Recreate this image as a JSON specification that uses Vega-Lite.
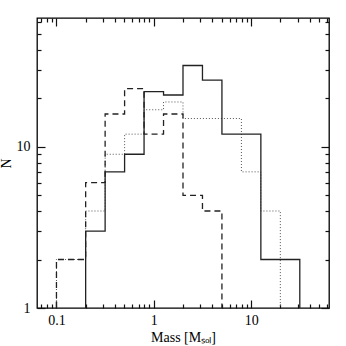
{
  "$schema": "https://vega.github.io/schema/vega-lite/v6.json",
  "autosize": "none",
  "width": 292,
  "height": 290,
  "padding": {"left": 37, "top": 18, "right": 17, "bottom": 38},
  "background": "white",
  "config": {
    "view": {"stroke": "black", "strokeWidth": 1.3},
    "axis": {
      "labelFont": "Liberation Serif",
      "titleFont": "Liberation Serif",
      "labelFontSize": 14,
      "titleFontSize": 14,
      "labelColor": "black",
      "titleColor": "black",
      "titleFontWeight": "normal",
      "domain": false,
      "ticks": true,
      "tickColor": "#111111",
      "tickWidth": 1.2,
      "grid": false,
      "labelFlush": false,
      "labelOverlap": false
    }
  },
  "data": {
    "values": [
      {"s": "A", "i": 0, "m": 0.1995, "n": 1},
      {"s": "A", "i": 1, "m": 0.1995, "n": 3},
      {"s": "A", "i": 2, "m": 0.3162, "n": 7},
      {"s": "A", "i": 3, "m": 0.5012, "n": 9},
      {"s": "A", "i": 4, "m": 0.7943, "n": 22},
      {"s": "A", "i": 5, "m": 1.2589, "n": 21},
      {"s": "A", "i": 6, "m": 1.9953, "n": 32},
      {"s": "A", "i": 7, "m": 3.1623, "n": 26},
      {"s": "A", "i": 8, "m": 5.0119, "n": 12},
      {"s": "A", "i": 9, "m": 7.9433, "n": 12},
      {"s": "A", "i": 10, "m": 12.589, "n": 2},
      {"s": "A", "i": 11, "m": 19.953, "n": 2},
      {"s": "A", "i": 12, "m": 31.623, "n": 2},
      {"s": "A", "i": 13, "m": 31.623, "n": 1},
      {"s": "B", "i": 0, "m": 0.1, "n": 1},
      {"s": "B", "i": 1, "m": 0.1, "n": 2},
      {"s": "B", "i": 2, "m": 0.1995, "n": 6},
      {"s": "B", "i": 3, "m": 0.3162, "n": 16},
      {"s": "B", "i": 4, "m": 0.5012, "n": 23},
      {"s": "B", "i": 5, "m": 0.7943, "n": 12},
      {"s": "B", "i": 6, "m": 1.2589, "n": 16},
      {"s": "B", "i": 7, "m": 1.9953, "n": 5},
      {"s": "B", "i": 8, "m": 3.1623, "n": 4},
      {"s": "B", "i": 9, "m": 5.0119, "n": 4},
      {"s": "B", "i": 10, "m": 5.0119, "n": 1},
      {"s": "C", "i": 0, "m": 0.1, "n": 1},
      {"s": "C", "i": 1, "m": 0.1, "n": 2},
      {"s": "C", "i": 2, "m": 0.1995, "n": 4},
      {"s": "C", "i": 3, "m": 0.3162, "n": 9},
      {"s": "C", "i": 4, "m": 0.5012, "n": 12},
      {"s": "C", "i": 5, "m": 0.7943, "n": 17},
      {"s": "C", "i": 6, "m": 1.2589, "n": 19},
      {"s": "C", "i": 7, "m": 1.9953, "n": 15},
      {"s": "C", "i": 8, "m": 3.1623, "n": 15},
      {"s": "C", "i": 9, "m": 5.0119, "n": 15},
      {"s": "C", "i": 10, "m": 7.9433, "n": 7},
      {"s": "C", "i": 11, "m": 12.589, "n": 4},
      {"s": "C", "i": 12, "m": 19.953, "n": 4},
      {"s": "C", "i": 13, "m": 19.953, "n": 1}
    ]
  },
  "resolve": {"axis": {"x": "independent", "y": "independent"}},
  "layer": [
    {
      "transform": [{"filter": "datum.s == 'C'"}],
      "mark": {"type": "line", "interpolate": "step-after", "stroke": "#555555", "strokeWidth": 1, "strokeDash": [1, 2], "clip": true},
      "encoding": {
        "x": {"field": "m", "type": "quantitative", "scale": {"type": "log", "domain": [0.0631, 63.1], "nice": false},
          "axis": {"orient": "bottom", "title": "Mass [Mₛₒₗ]", "titlePadding": 3,
            "values": [0.1, 1, 10], "ticks": false,
            "labelExpr": "datum.value == 0.1 ? '0.1' : datum.value == 1 ? '1' : '10'",
            "labelPadding": 5}},
        "y": {"field": "n", "type": "quantitative", "scale": {"type": "log", "domain": [1, 63.1], "nice": false},
          "axis": {"orient": "left", "title": "N", "titlePadding": 3,
            "values": [1, 10], "ticks": false,
            "labelExpr": "datum.value == 1 ? '1' : '10'",
            "labelPadding": 7}},
        "order": {"field": "i", "type": "quantitative"}
      }
    },
    {
      "transform": [{"filter": "datum.s == 'B'"}],
      "mark": {"type": "line", "interpolate": "step-after", "stroke": "#222222", "strokeWidth": 1.3, "strokeDash": [6, 4], "clip": true},
      "encoding": {
        "x": {"field": "m", "type": "quantitative",
          "axis": {"orient": "top", "title": null, "labels": false, "values": [0.1, 1, 10], "offset": -8, "tickSize": 8}},
        "y": {"field": "n", "type": "quantitative",
          "axis": {"orient": "right", "title": null, "labels": false, "values": [1, 10], "offset": -8, "tickSize": 8}},
        "order": {"field": "i", "type": "quantitative"}
      }
    },
    {
      "transform": [{"filter": "datum.s == 'A'"}],
      "mark": {"type": "line", "interpolate": "step-after", "stroke": "#222222", "strokeWidth": 1.3, "clip": true},
      "encoding": {
        "x": {"field": "m", "type": "quantitative",
          "axis": {"orient": "top", "title": null, "labels": false, "values": [0.1, 1, 10], "offset": -290, "tickSize": 8}},
        "y": {"field": "n", "type": "quantitative",
          "axis": {"orient": "right", "title": null, "labels": false, "values": [1, 10], "offset": -292, "tickSize": 8}},
        "order": {"field": "i", "type": "quantitative"}
      }
    },
    {
      "transform": [{"filter": "datum.s == 'A'"}],
      "mark": {"type": "line", "strokeOpacity": 0},
      "encoding": {
        "x": {"field": "m", "type": "quantitative",
          "axis": {"orient": "top", "title": null, "labels": false, "offset": -290, "tickSize": 4,
            "values": [0.07, 0.08, 0.09, 0.2, 0.3, 0.4, 0.5, 0.6, 0.7, 0.8, 0.9, 2, 3, 4, 5, 6, 7, 8, 9, 20, 30, 40, 50, 60]}},
        "y": {"field": "n", "type": "quantitative",
          "axis": {"orient": "right", "title": null, "labels": false, "offset": -292, "tickSize": 4,
            "values": [2, 3, 4, 5, 6, 7, 8, 9, 20, 30, 40, 50, 60]}},
        "order": {"field": "i", "type": "quantitative"}
      }
    },
    {
      "transform": [{"filter": "datum.s == 'A'"}],
      "mark": {"type": "line", "strokeOpacity": 0},
      "encoding": {
        "x": {"field": "m", "type": "quantitative",
          "axis": {"orient": "top", "title": null, "labels": false, "offset": -4, "tickSize": 4,
            "values": [0.07, 0.08, 0.09, 0.2, 0.3, 0.4, 0.5, 0.6, 0.7, 0.8, 0.9, 2, 3, 4, 5, 6, 7, 8, 9, 20, 30, 40, 50, 60]}},
        "y": {"field": "n", "type": "quantitative",
          "axis": {"orient": "right", "title": null, "labels": false, "offset": -4, "tickSize": 4,
            "values": [2, 3, 4, 5, 6, 7, 8, 9, 20, 30, 40, 50, 60]}},
        "order": {"field": "i", "type": "quantitative"}
      }
    }
  ]
}
